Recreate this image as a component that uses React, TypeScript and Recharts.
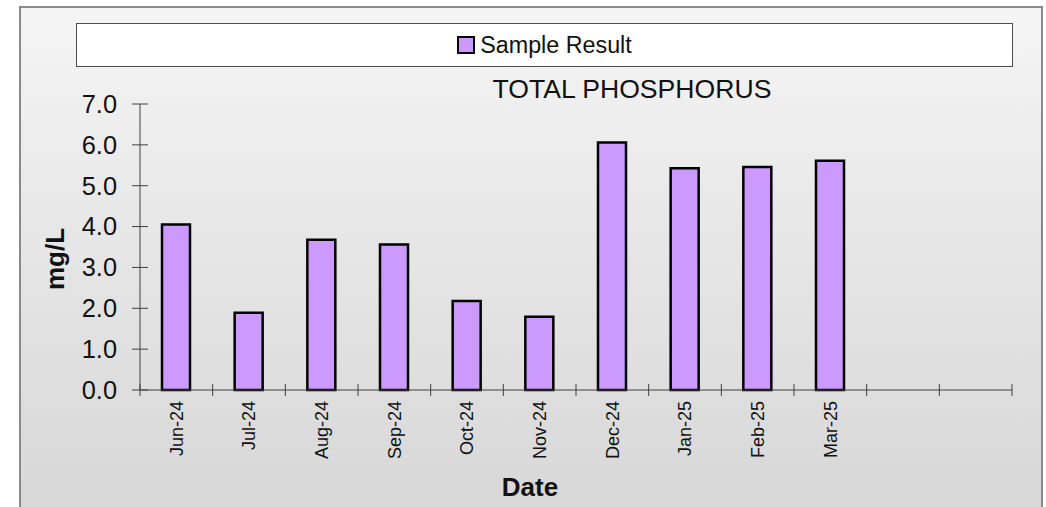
import React from "react";
import { BarChart, Bar, XAxis, YAxis, Label } from "recharts";

const dates = ["Jun-24", "Jul-24", "Aug-24", "Sep-24", "Oct-24", "Nov-24", "Dec-24", "Jan-25", "Feb-25", "Mar-25", "", " "];
const results: (number | null)[] = [4.05, 1.89, 3.68, 3.56, 2.18, 1.79, 6.06, 5.43, 5.46, 5.61, null, null];
const yTicks = [0, 1, 2, 3, 4, 5, 6, 7];
const seriesName = "Sample Result";
const title = "TOTAL PHOSPHORUS";
const yLabel = "mg/L";
const xLabel = "Date";

const data = dates.map((d, i) => ({ date: d, result: results[i] }));

const FONT = "'Liberation Sans', Arial, Helvetica, sans-serif";
const CHART_W = 1046;
const CHART_H = 507;
const MARGIN = { top: 104, right: 34, bottom: 0, left: 0 };
const Y_AXIS_W = 140;
const X_AXIS_H = 117;
const PLOT_W = CHART_W - MARGIN.left - MARGIN.right - Y_AXIS_W;
const BAND = PLOT_W / dates.length;
const AXIS_COLOR = "#404040";
const BAR_FILL = "#cc99ff";

const XTick = (props: any) => {
  const { x, y, payload, index } = props;
  const half = BAND / 2;
  return (
    <g>
      {index === 0 && (
        <line x1={x - half} x2={x - half} y1={y - 6} y2={y + 6} stroke={AXIS_COLOR} strokeWidth={1} />
      )}
      <line x1={x + half} x2={x + half} y1={y - 6} y2={y + 6} stroke={AXIS_COLOR} strokeWidth={1} />
      <text
        x={x}
        y={y + 11}
        transform={`rotate(-90, ${x}, ${y + 11})`}
        textAnchor="end"
        dy="0.35em"
        fontSize={18}
        fontFamily={FONT}
        fill="#111"
      >
        {payload.value}
      </text>
    </g>
  );
};

const YTick = (props: any) => {
  const { x, y, payload } = props;
  return (
    <g>
      <line x1={x - 8} x2={x + 8} y1={y} y2={y} stroke={AXIS_COLOR} strokeWidth={1} />
      <text x={x - 23} y={y} textAnchor="end" dy="0.35em" fontSize={25.4} fontFamily={FONT} fill="#111">
        {Number(payload.value).toFixed(1)}
      </text>
    </g>
  );
};

export default function App() {
  return (
    <div
      style={{
        position: "absolute",
        left: 0,
        top: 0,
        width: CHART_W,
        height: CHART_H,
        overflow: "hidden",
        fontFamily: FONT,
      }}
    >
      <div
        style={{
          position: "absolute",
          left: 19,
          top: 6,
          width: 1024,
          height: 530,
          boxSizing: "border-box",
          border: "2px solid #8a8a8a",
          background: "linear-gradient(to bottom, #f5f5f5 0%, #e6e6e6 45%, #d6d6d6 100%)",
        }}
      />
      <div
        style={{
          position: "absolute",
          left: 76,
          top: 23,
          width: 937,
          height: 44,
          boxSizing: "border-box",
          border: "1px solid #4d4d4d",
          background: "#ffffff",
          display: "flex",
          alignItems: "center",
          justifyContent: "center",
        }}
      >
        <span
          style={{
            display: "inline-block",
            width: 14,
            height: 14,
            background: BAR_FILL,
            border: "2px solid #000",
            marginRight: 5,
          }}
        />
        <span style={{ fontSize: 23.3, color: "#111", lineHeight: "23px" }}>{seriesName}</span>
      </div>
      <div
        style={{
          position: "absolute",
          left: 332,
          top: 76,
          width: 600,
          textAlign: "center",
          fontSize: 26.6,
          lineHeight: "26.6px",
          color: "#111",
        }}
      >
        {title}
      </div>
      <div style={{ position: "absolute", left: 0, top: 0 }}>
        <BarChart width={CHART_W} height={CHART_H} data={data} margin={MARGIN} barCategoryGap={0}>
          <XAxis
            dataKey="date"
            interval={0}
            tickLine={false}
            tickSize={0}
            tickMargin={0}
            height={X_AXIS_H}
            axisLine={{ stroke: AXIS_COLOR, strokeWidth: 1 }}
            tick={<XTick />}
          >
            <Label
              content={(p: any) => {
                const vb = p.viewBox || { x: 140, y: 390, width: 872, height: 117 };
                return (
                  <text
                    x={vb.x + vb.width / 2 - 46}
                    y={vb.y + 106}
                    textAnchor="middle"
                    fontSize={26}
                    fontWeight="bold"
                    fontFamily={FONT}
                    fill="#111"
                  >
                    {xLabel}
                  </text>
                );
              }}
            />
          </XAxis>
          <YAxis
            type="number"
            domain={[0, 7]}
            ticks={yTicks}
            interval={0}
            width={Y_AXIS_W}
            tickLine={false}
            tickSize={0}
            tickMargin={0}
            axisLine={{ stroke: AXIS_COLOR, strokeWidth: 1 }}
            tick={<YTick />}
          >
            <Label
              content={(p: any) => {
                const vb = p.viewBox || { x: 0, y: 104, width: 140, height: 286 };
                const cx = vb.x + 55;
                const cy = vb.y + vb.height / 2 + 12;
                return (
                  <text
                    x={cx}
                    y={cy}
                    transform={`rotate(-90, ${cx}, ${cy})`}
                    textAnchor="middle"
                    dy="0.35em"
                    fontSize={26}
                    fontWeight="bold"
                    fontFamily={FONT}
                    fill="#111"
                  >
                    {yLabel}
                  </text>
                );
              }}
            />
          </YAxis>
          <Bar
            dataKey="result"
            name={seriesName}
            fill={BAR_FILL}
            stroke="#000"
            strokeWidth={2.5}
            barSize={28}
            isAnimationActive={false}
          />
        </BarChart>
      </div>
    </div>
  );
}
